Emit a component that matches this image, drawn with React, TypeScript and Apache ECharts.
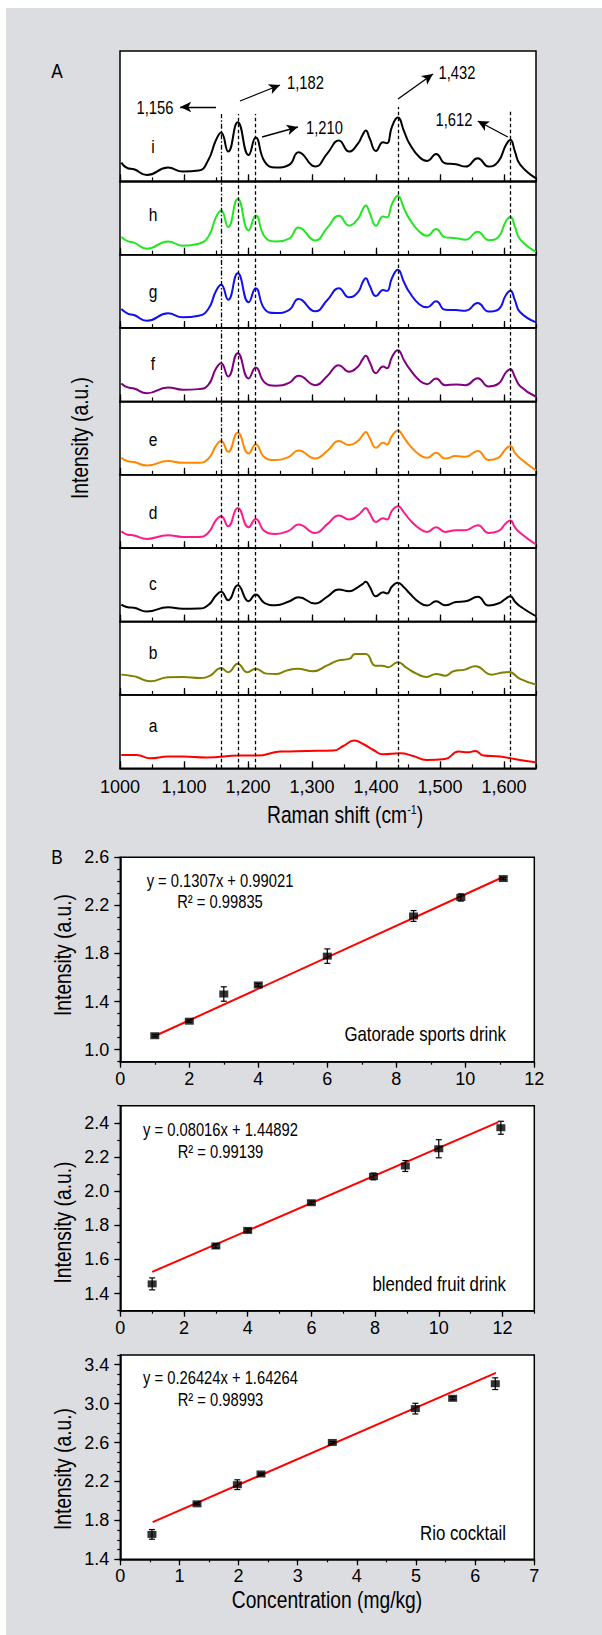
import React, { useEffect, useRef } from "react";
import * as echarts from "echarts";

// ---------- Panel A data ----------
const ramanTicks = [1000, 1100, 1200, 1300, 1400, 1500, 1600];
const ramanTickLabels = ["1000", "1,100", "1,200", "1,300", "1,400", "1,500", "1,600"];
const panelLetters = ["i", "h", "g", "f", "e", "d", "c", "b", "a"];
const peakPositions = [1158, 1184, 1212, 1434, 1610];
const peakLabels = ["1,156", "1,182", "1,210", "1,432", "1,612"];

const specI = [[1002,18.7],[1012,13],[1022,12],[1042,6.3],[1075,13.7],[1098,9.7],[1123,10.7],[1138,21.3],[1150,41.3],[1158,48.7],[1169,29.7],[1184,59],[1201,26.3],[1212,43.7],[1226,19.7],[1243,13.7],[1264,16.3],[1279,29],[1305,14.7],[1324,28],[1342,40.7],[1358,29.7],[1372,38],[1379,46.3],[1384,50.7],[1390,43],[1400,30.3],[1411,39],[1417,38],[1425,54.7],[1434,63.7],[1444,49.7],[1452,38],[1468,24],[1480,20.3],[1494,27.3],[1508,18],[1525,17],[1540,14.7],[1559,23],[1576,14.7],[1591,19.7],[1603,36.3],[1610,41.3],[1617,30],[1625,17],[1650,3]];
const specH = [[1002,17.7],[1012,13.5],[1022,12],[1042,6],[1075,13.3],[1098,9],[1123,11],[1138,18],[1150,37.5],[1158,44.3],[1169,27.7],[1184,55.7],[1201,24.3],[1212,39.3],[1226,18],[1243,13.3],[1264,16],[1279,27.3],[1305,14.3],[1324,27],[1342,39],[1358,29],[1372,36],[1379,45],[1384,49.3],[1390,42],[1400,29],[1411,38.3],[1417,37.3],[1425,50.5],[1434,59],[1444,46],[1452,36],[1468,23],[1480,19],[1494,25.7],[1508,17.3],[1525,16.5],[1540,15],[1559,23],[1576,14.5],[1591,17.5],[1603,33.5],[1610,37.7],[1617,28],[1625,15.5],[1650,2.7]];
const specG = [[1002,19],[1012,14.5],[1022,13],[1042,7.3],[1075,14.7],[1098,10.7],[1123,12.3],[1138,19],[1150,37],[1158,43.3],[1169,28.3],[1184,54.7],[1201,25.7],[1212,39.7],[1226,19],[1243,15],[1264,18],[1279,29],[1305,16.7],[1324,28],[1342,39.7],[1358,30.7],[1372,36],[1379,45.5],[1384,49.7],[1390,42.5],[1400,32],[1411,38],[1417,37],[1425,50],[1434,58.3],[1444,45.5],[1452,36],[1468,23.5],[1480,20.7],[1494,26.7],[1508,18.3],[1525,18],[1540,17.3],[1559,25],[1576,16.5],[1591,18.5],[1603,33],[1610,37.3],[1617,28],[1625,16],[1650,5.7]];
const specF = [[1002,18],[1012,14],[1022,13],[1042,8.3],[1075,14],[1098,11.7],[1123,12.3],[1138,16.5],[1150,33],[1158,38.3],[1169,25],[1184,48.3],[1201,23],[1212,34],[1226,19],[1243,15.7],[1264,18.5],[1279,25.7],[1305,16.3],[1324,25.5],[1342,36.3],[1358,29.7],[1372,35],[1379,42],[1384,45.7],[1390,39.5],[1400,28.3],[1411,35],[1417,33.3],[1425,44.5],[1434,51.3],[1444,41],[1452,33],[1468,21],[1480,17.3],[1494,23],[1508,16.3],[1525,17],[1540,16.3],[1559,23.3],[1576,15],[1591,17.5],[1603,29],[1610,32.3],[1617,24.5],[1625,15.5],[1650,4.7]];
const specE = [[1002,17],[1012,13.5],[1022,12.7],[1042,9.3],[1075,13.7],[1098,12],[1123,12],[1138,16],[1150,29],[1158,33.7],[1169,23],[1184,42],[1201,21.3],[1212,30.3],[1226,17.5],[1243,14.7],[1264,18],[1279,24.3],[1305,16.3],[1324,24],[1342,33.7],[1358,29.7],[1372,34],[1379,39.5],[1384,42.7],[1390,37],[1400,27],[1411,32],[1417,30.3],[1425,39],[1434,44.3],[1444,37],[1452,30],[1468,20],[1480,17],[1494,22],[1508,16.3],[1525,18.7],[1540,18],[1559,23.7],[1576,14.8],[1591,17],[1603,26],[1610,28.7],[1617,22],[1625,16.5],[1650,4.3]];
const specD = [[1002,17],[1012,13.5],[1022,12.7],[1042,9.3],[1075,13],[1098,11.3],[1123,11.3],[1138,15.5],[1150,28],[1158,32],[1169,22],[1184,40.3],[1201,21],[1212,29.3],[1226,17],[1243,14.3],[1264,17.5],[1279,23.7],[1305,15.3],[1324,24],[1342,32.7],[1358,28.7],[1372,33],[1379,37.5],[1384,40.3],[1390,35],[1400,26.3],[1411,30],[1417,28.7],[1425,37.5],[1434,42],[1444,35.5],[1452,29],[1468,19.5],[1480,16.3],[1494,21],[1508,16.3],[1525,18],[1540,18],[1559,23],[1576,15.2],[1591,17],[1603,25],[1610,27.7],[1617,21],[1625,15.5],[1650,3.7]];
const specC = [[1002,17],[1012,14.3],[1022,13.7],[1042,10],[1075,14.3],[1098,12.7],[1123,13],[1138,16.5],[1150,26],[1158,29.7],[1169,21.3],[1184,36.3],[1201,20.3],[1212,27],[1226,18.5],[1243,16.3],[1264,20],[1279,24.3],[1305,18],[1324,25],[1342,32],[1358,30.3],[1372,34.5],[1379,37.5],[1384,39.7],[1390,35],[1400,25.3],[1411,29.3],[1417,28],[1425,35],[1434,38.7],[1444,34],[1452,28.5],[1468,19],[1480,16],[1494,20.3],[1508,16.3],[1525,19.5],[1540,20.3],[1559,24.7],[1576,16],[1591,18],[1603,23],[1610,25.3],[1617,20],[1625,15.3],[1650,5.3]];
const specB = [[1002,20.3],[1018,19],[1026,18],[1047,13.7],[1075,17.7],[1099,18],[1125,17],[1141,19.3],[1158,27],[1169,22.7],[1184,31.3],[1199,22.7],[1212,26.3],[1229,21.3],[1245,21],[1260,24.3],[1277,26.3],[1302,23.7],[1323,29.3],[1340,34.3],[1359,36.3],[1367,41],[1384,41],[1399,29.3],[1410,29.3],[1419,27.7],[1434,32.7],[1448,27],[1464,21],[1479,18],[1494,21],[1508,19.3],[1521,23.7],[1539,25.3],[1555,28.7],[1581,20.3],[1594,22],[1608,23],[1625,16],[1650,10.3]];
const specA = [[1002,13.3],[1026,13.3],[1047,10],[1075,11.7],[1099,11.7],[1135,10.7],[1188,12.7],[1214,12.7],[1250,16.7],[1292,17.3],[1333,17.7],[1349,22.3],[1366,27.7],[1380,24.3],[1396,18.3],[1411,14],[1438,15],[1458,12.3],[1479,8.3],[1508,9.3],[1529,16.7],[1544,16],[1555,17.3],[1568,12.7],[1594,11.7],[1625,8.3],[1650,6]];

const spectra = [specI, specH, specG, specF, specE, specD, specC, specB, specA];

// ---------- Panel B data ----------
const gatoradeConc = [1, 2, 3, 4, 6, 8.5, 9.87, 11.1];
const gatoradeInt = [1.116, 1.237, 1.463, 1.538, 1.778, 2.112, 2.266, 2.423];
const gatoradeErr = [0.01, 0.01, 0.06, 0.012, 0.06, 0.045, 0.03, 0.01];
const gatoradeFit = [[1.05, 1.12], [11.05, 2.43]];

const fruitConc = [1, 3, 4, 6, 7.95, 8.95, 10, 11.95];
const fruitInt = [1.457, 1.679, 1.77, 1.932, 2.086, 2.147, 2.248, 2.371];
const fruitErr = [0.035, 0.012, 0.01, 0.01, 0.02, 0.032, 0.053, 0.038];
const fruitFit = [[1, 1.527], [11.87, 2.404]];

const rioConc = [0.535, 1.297, 1.979, 2.379, 3.585, 4.989, 5.62, 6.34];
const rioInt = [1.656, 1.97, 2.167, 2.277, 2.601, 2.949, 3.055, 3.205];
const rioErr = [0.05, 0.01, 0.05, 0.01, 0.01, 0.055, 0.015, 0.06];
const rioFit = [[0.547, 1.782], [6.35, 3.317]];

const equations = ["y = 0.1307x + 0.99021", "y = 0.08016x + 1.44892", "y = 0.26424x + 1.64264"];
const r2Labels = ["R\u00b2 = 0.99835", "R\u00b2 = 0.99139", "R\u00b2 = 0.98993"];
const sampleNames = ["Gatorade sports drink", "blended fruit drink", "Rio cocktail"];

const bXTicks = [[0, 2, 4, 6, 8, 10, 12], [0, 2, 4, 6, 8, 10, 12], [0, 1, 2, 3, 4, 5, 6, 7]];
const bYTicks = [[1.0, 1.4, 1.8, 2.2, 2.6], [1.4, 1.6, 1.8, 2.0, 2.2, 2.4], [1.4, 1.8, 2.2, 2.6, 3.0, 3.4]];

// ---------- layout / style ----------
const FONT = "'Liberation Sans', Arial, sans-serif";
const NARROW = 0.82;
const panelColors = ["#000000", "#22e622", "#1010f0", "#800080", "#ff8800", "#ff1a8c", "#000000", "#808000", "#ff0000"];
const A_LEFT = 120;
const A_WIDTH = 416;
const A_TOP = 51;
const A_I_HEIGHT = 130.3;
const A_PANEL_H = 73.375;
const letterBaseOffsets = [28.6, 34, 29.7, 31.3, 28.6, 28.7, 32, 36.3, 36.6];
const peakTopsI = [67.3, 67.3, 67.3, 74.3, 71.3];
const arrowFrom = [[1150, 74.3], [1187.5, 80.3], [1222, 44.3], [1434.4, 82.3], [1606, 44.3]];
const arrowTo = [[1094, 74.3], [1250, 96.3], [1278, 54.3], [1489, 107.3], [1559, 60.3]];
const peakLabelPos = [[155, 107.5], [305.5, 82.7], [324.5, 127], [457, 72.5], [454, 119.3]];

const bGrids = [
  { top: 857.3, height: 204.4, xMax: 12, yMin: 0.9, yMax: 2.6, xMinor: 1 },
  { top: 1105.7, height: 205, xMax: 13, yMin: 1.3, yMax: 2.5, xMinor: 1 },
  { top: 1355, height: 204.3, xMax: 7, yMin: 1.4, yMax: 3.5, xMinor: 0.5 },
];
const bEqPos = [[220, 880.5, 901], [220.5, 1129, 1151], [220.5, 1377.5, 1399.5]];
const bNamePos = [1034, 1283.5, 1533];
const bYTitleY = [955, 1222.5, 1469];

function panelTop(k: number) {
  return k === 0 ? A_TOP : A_TOP + A_I_HEIGHT + (k - 1) * A_PANEL_H;
}
function panelHeight(k: number) {
  return k === 0 ? A_I_HEIGHT : A_PANEL_H;
}

function txt(text: string, x: number, y: number, fontSize: number, align = "center", extra: any = {}, styleExtra: any = {}) {
  return {
    type: "text", x, y, z: 100, scaleX: NARROW, ...extra,
    style: { text, fill: "#000", fontSize, fontFamily: FONT, align, verticalAlign: "middle", ...styleExtra },
  };
}

function buildOption() {
  const grid: any[] = [];
  const xAxis: any[] = [];
  const yAxis: any[] = [];
  const series: any[] = [];
  const graphic: any[] = [];

  const blackLine = { color: "#000", width: 1.5 };

  // Panel A
  for (let k = 0; k < 9; k++) {
    grid.push({
      left: A_LEFT, top: panelTop(k), width: A_WIDTH, height: panelHeight(k),
      show: true, backgroundColor: "#fff", borderColor: "#000", borderWidth: 1.5,
    });
    xAxis.push({
      gridIndex: k, type: "value", min: 1000, max: 1650, position: "bottom",
      axisLine: { show: true, onZero: false, lineStyle: blackLine },
      axisTick: { show: true, inside: true, length: 7, customValues: ramanTicks, lineStyle: { color: "#000", width: 1.3 } },
      axisLabel: {
        show: k === 8, customValues: ramanTicks, margin: 10, color: "#000", fontSize: 18, fontFamily: FONT,
        formatter: (v: number) => ramanTickLabels[ramanTicks.indexOf(Math.round(v))] ?? "",
      },
      splitLine: { show: false },
    });
    xAxis.push({
      gridIndex: k, type: "value", min: 1000, max: 1650, interval: 50, position: "bottom",
      axisLine: { show: false },
      axisTick: { show: true, inside: true, length: 4, lineStyle: { color: "#000", width: 1.2 } },
      axisLabel: { show: false }, splitLine: { show: false },
    });
    yAxis.push({ gridIndex: k, type: "value", min: 0, max: panelHeight(k), show: false });

    const dash = (j: number) => ({
      color: "#000", width: 1.3,
      type: j === 0 && k < 5 ? [5, 2, 1.5, 2] : [3.5, 2.5],
    });
    let mlData: any[];
    if (k === 0) {
      mlData = peakPositions.map((p, j) => [
        { coord: [p, 0], symbol: "none", lineStyle: dash(j) },
        { coord: [p, peakTopsI[j]], symbol: "none", lineStyle: dash(j) },
      ]);
      arrowFrom.forEach((f, j) => {
        mlData.push([
          { coord: f, symbol: "none", lineStyle: { color: "#000", width: 1.3, type: "solid" } },
          { coord: arrowTo[j], symbol: "arrow", symbolSize: [8, 11], lineStyle: { color: "#000", width: 1.3, type: "solid" } },
        ]);
      });
    } else {
      mlData = peakPositions.map((p, j) => ({ xAxis: p, lineStyle: dash(j) }));
    }

    series.push({
      type: "line", xAxisIndex: 2 * k, yAxisIndex: k, data: spectra[k],
      smooth: 0.5, showSymbol: false, symbol: "none",
      lineStyle: { color: panelColors[k], width: 2 }, itemStyle: { color: panelColors[k] },
      markLine: {
        silent: true, animation: false, symbol: ["none", "none"], label: { show: false },
        emphasis: { disabled: true }, data: mlData,
      },
      z: 2,
    });

    const base = panelTop(k) + panelHeight(k) - letterBaseOffsets[k];
    graphic.push(txt(panelLetters[k], 153, base - 6.6, 19));
  }

  peakLabels.forEach((t, j) => {
    graphic.push(txt(t, peakLabelPos[j][0], peakLabelPos[j][1], 18));
  });

  // Panel B
  const bSets = [
    { conc: gatoradeConc, int: gatoradeInt, err: gatoradeErr, fit: gatoradeFit },
    { conc: fruitConc, int: fruitInt, err: fruitErr, fit: fruitFit },
    { conc: rioConc, int: rioInt, err: rioErr, fit: rioFit },
  ];
  bGrids.forEach((g, c) => {
    const gi = 9 + c;
    grid.push({
      left: 120.3, top: g.top, width: 414, height: g.height,
      show: true, backgroundColor: "#fff", borderColor: "#000", borderWidth: 1.5,
    });
    const xi = xAxis.length;
    xAxis.push({
      gridIndex: gi, type: "value", min: 0, max: g.xMax, position: "bottom",
      axisLine: { show: true, onZero: false, lineStyle: blackLine },
      axisTick: { show: true, inside: false, length: 6, customValues: bXTicks[c], lineStyle: { color: "#000", width: 1.3 } },
      axisLabel: { show: true, customValues: bXTicks[c], margin: 8, color: "#000", fontSize: 18, fontFamily: FONT, formatter: (v: number) => String(v) },
      splitLine: { show: false },
    });
    xAxis.push({
      gridIndex: gi, type: "value", min: 0, max: g.xMax, interval: g.xMinor, position: "bottom",
      axisLine: { show: false },
      axisTick: { show: true, inside: false, length: 3, lineStyle: { color: "#000", width: 1.2 } },
      axisLabel: { show: false }, splitLine: { show: false },
    });
    const yi = yAxis.length;
    yAxis.push({
      gridIndex: gi, type: "value", min: g.yMin, max: g.yMax, position: "left",
      axisLine: { show: true, onZero: false, lineStyle: blackLine },
      axisTick: { show: true, inside: false, length: 6, customValues: bYTicks[c], lineStyle: { color: "#000", width: 1.3 } },
      axisLabel: { show: true, customValues: bYTicks[c], margin: 11, color: "#000", fontSize: 18, fontFamily: FONT, formatter: (v: number) => v.toFixed(1) },
      splitLine: { show: false },
    });
    yAxis.push({
      gridIndex: gi, type: "value", min: g.yMin, max: g.yMax, interval: 0.1, position: "left",
      axisLine: { show: false },
      axisTick: { show: true, inside: false, length: 3, lineStyle: { color: "#000", width: 1.2 } },
      axisLabel: { show: false }, splitLine: { show: false },
    });

    const set = bSets[c];
    series.push({
      type: "line", xAxisIndex: xi, yAxisIndex: yi, data: set.fit,
      showSymbol: false, symbol: "none", lineStyle: { color: "#ff0000", width: 2 }, z: 2,
    });
    series.push({
      type: "custom", xAxisIndex: xi, yAxisIndex: yi,
      data: set.conc.map((x, i) => [x, set.int[i], set.err[i]]),
      encode: { x: 0, y: 1 },
      renderItem: (params: any, api: any) => {
        const x = api.value(0), y = api.value(1), e = api.value(2);
        const top = api.coord([x, y + e]);
        const bot = api.coord([x, y - e]);
        const cap = 3;
        const st = { stroke: "#000", lineWidth: 1.2 };
        return {
          type: "group",
          children: [
            { type: "line", shape: { x1: top[0], y1: top[1], x2: bot[0], y2: bot[1] }, style: st },
            { type: "line", shape: { x1: top[0] - cap, y1: top[1], x2: top[0] + cap, y2: top[1] }, style: st },
            { type: "line", shape: { x1: bot[0] - cap, y1: bot[1], x2: bot[0] + cap, y2: bot[1] }, style: st },
          ],
        };
      },
      z: 3,
    });
    series.push({
      type: "scatter", xAxisIndex: xi, yAxisIndex: yi,
      data: set.conc.map((x, i) => [x, set.int[i]]),
      symbol: "rect", symbolSize: [9, 7], itemStyle: { color: "#000" }, z: 4,
    });

    graphic.push(txt(equations[c], bEqPos[c][0], bEqPos[c][1], 18));
    graphic.push(txt(r2Labels[c], bEqPos[c][0], bEqPos[c][2], 18));
    graphic.push(txt(sampleNames[c], 506, bNamePos[c], 20.5, "right"));
    graphic.push(txt("Intensity (a.u.)", 63, bYTitleY[c], 23.5, "center", { rotation: Math.PI / 2 }));
  });

  // Titles and panel letters
  graphic.push(
    txt("A", 57, 71, 21),
    txt("B", 57, 856.5, 21),
    txt("Intensity (a.u.)", 80, 438, 23.5, "center", { rotation: Math.PI / 2 }),
    txt("Raman shift (cm{sup|-1})", 345, 815, 23.5, "center", {}, {
      rich: { sup: { fontSize: 13, fontFamily: FONT, fill: "#000", verticalAlign: "top", lineHeight: 23 } },
    }),
    txt("Concentration (mg/kg)", 327, 1600, 23.5),
  );

  return {
    animation: false,
    backgroundColor: "transparent",
    grid, xAxis, yAxis, series, graphic,
  };
}

export default function App() {
  const ref = useRef<HTMLDivElement>(null);
  useEffect(() => {
    document.body.style.margin = "0";
    const chart = echarts.init(ref.current!, null, { renderer: "svg" });
    chart.setOption(buildOption() as any);
    return () => chart.dispose();
  }, []);
  return (
    <div style={{ position: "relative", width: 602, height: 1635, background: "#fff" }}>
      <div style={{ position: "absolute", left: 6, top: 8, width: 596, height: 1627, background: "#dcdde0" }} />
      <div ref={ref} style={{ position: "absolute", left: 0, top: 0, width: 602, height: 1635 }} />
    </div>
  );
}
